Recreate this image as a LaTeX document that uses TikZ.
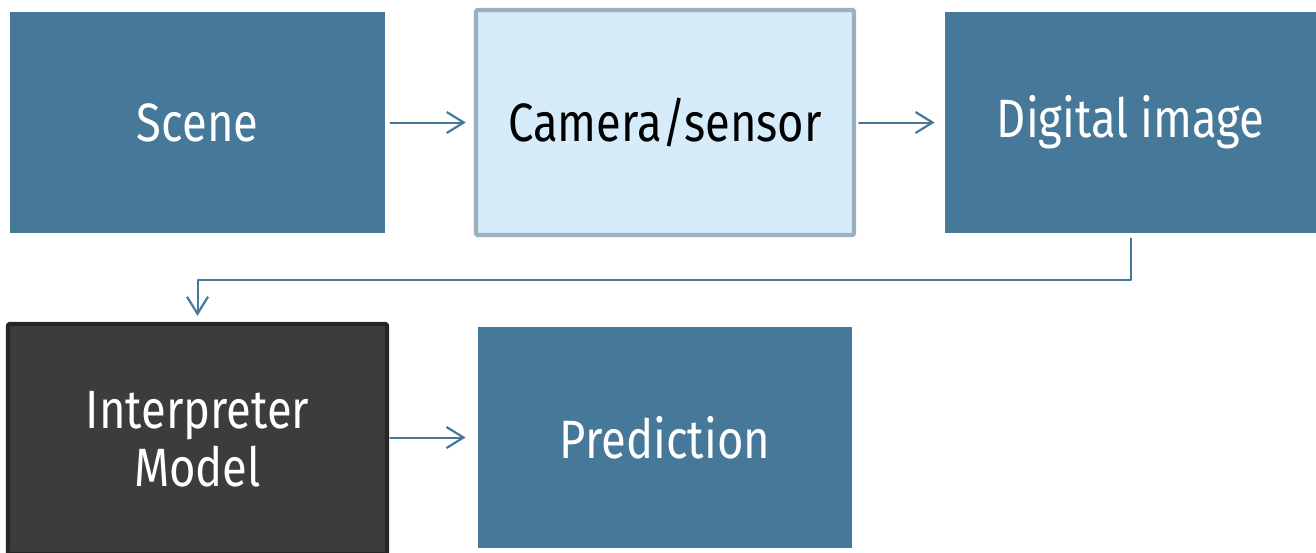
\documentclass[tikz,border=0pt]{standalone}
\usepackage{fontspec}
\setmainfont{Fira Sans}[FakeStretch=0.84]
\usetikzlibrary{arrows.meta}
\definecolor{boxblue}{HTML}{46789A}
\definecolor{lightblue}{HTML}{D6ECFB}
\definecolor{lightedge}{HTML}{9BAFBF}
\definecolor{darkfill}{HTML}{3C3C3C}
\definecolor{darkedge}{HTML}{262626}
\begin{document}
\begin{tikzpicture}[line cap=round,line join=round,x=0.5pt,y=-0.5pt,
	box/.style={inner sep=0pt,align=center,font=\fontsize{27}{29}\selectfont},
	bluebox/.style={box,fill=boxblue,text=white},
	flow/.style={draw=boxblue,line width=1pt,-{Straight Barb[length=8.5pt,width=10.5pt,line width=1.1pt]}}]
	\useasboundingbox (0,0) rectangle (1316,552);
	\node[bluebox,minimum width=187.5pt,minimum height=110.5pt] (scene) at (197.5,122.5) {Scene};
	\node[box,fill=lightblue,draw=lightedge,line width=2.2pt,rounded corners=1pt,minimum width=189pt,minimum height=112.5pt] (camera) at (665,122.5) {Camera/sensor};
	\node[bluebox,minimum width=185.5pt,minimum height=110.5pt] (digital) at (1130.5,122.5) {Digital image};
	\node[box,fill=darkfill,draw=darkedge,text=white,line width=2.2pt,rounded corners=1pt,minimum width=189.5pt,minimum height=115pt] (interp) at (197.5,439) {Interpreter\\Model};
	\node[bluebox,minimum width=187pt,minimum height=110.5pt] (pred) at (665,437.5) {Prediction};
	
	\draw[flow,shorten <=2.5pt,shorten >=4pt] (scene) -- (camera);
	\draw[flow,shorten <=1.5pt,shorten >=5pt] (camera) -- (digital);
	\draw[flow,shorten <=0.5pt,shorten >=6pt] (interp.east |- pred.west) -- (pred.west);
	\draw[flow,shorten <=2.5pt,shorten >=3pt] (digital.south) -- ++(0,47) -| (interp.north);
\end{tikzpicture}
\end{document}
